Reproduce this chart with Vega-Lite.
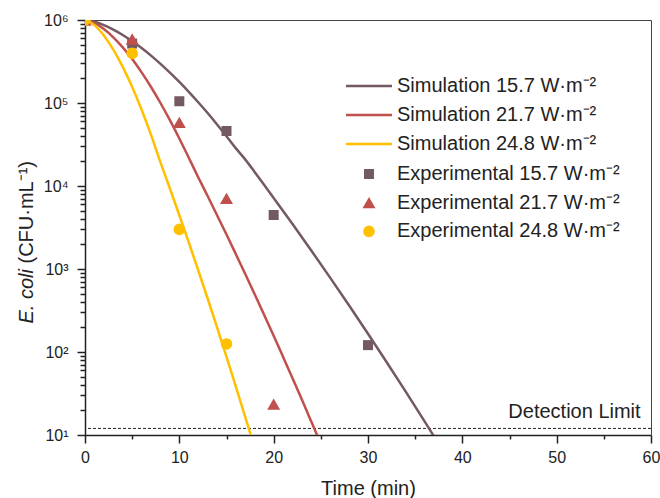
{
  "$schema": "https://vega.github.io/schema/vega-lite/v6.json",
  "width": 566,
  "height": 415,
  "autosize": {"type": "none"},
  "padding": {"left": 85, "top": 20, "right": 9, "bottom": 63},
  "background": "white",
  "config": {
    "font": "Liberation Sans",
    "view": {"stroke": "#444", "strokeWidth": 1},
    "axis": {"grid": false, "domainColor": "#222", "domainWidth": 1.5, "tickColor": "#222", "tickWidth": 1.5, "labelColor": "#222", "titleColor": "#222", "labelFont": "Liberation Sans", "titleFont": "Liberation Sans", "titleFontWeight": "normal"},
    "legend": {"labelFont": "Liberation Sans", "labelColor": "#222", "padding": 0, "labelLimit": 400}
  },
  "datasets": {
    "sim": [
      {"series": "Simulation 15.7 W·m⁻²", "t": 0, "N": 1000000},
      {"series": "Simulation 15.7 W·m⁻²", "t": 1, "N": 952800},
      {"series": "Simulation 15.7 W·m⁻²", "t": 2, "N": 867000},
      {"series": "Simulation 15.7 W·m⁻²", "t": 3, "N": 767400},
      {"series": "Simulation 15.7 W·m⁻²", "t": 4, "N": 660700},
      {"series": "Simulation 15.7 W·m⁻²", "t": 5, "N": 555900},
      {"series": "Simulation 15.7 W·m⁻²", "t": 6, "N": 459200},
      {"series": "Simulation 15.7 W·m⁻²", "t": 7, "N": 372000},
      {"series": "Simulation 15.7 W·m⁻²", "t": 8, "N": 296500},
      {"series": "Simulation 15.7 W·m⁻²", "t": 9, "N": 232300},
      {"series": "Simulation 15.7 W·m⁻²", "t": 10, "N": 179100},
      {"series": "Simulation 15.7 W·m⁻²", "t": 11, "N": 136300},
      {"series": "Simulation 15.7 W·m⁻²", "t": 12, "N": 102200},
      {"series": "Simulation 15.7 W·m⁻²", "t": 13, "N": 75700},
      {"series": "Simulation 15.7 W·m⁻²", "t": 14, "N": 55200},
      {"series": "Simulation 15.7 W·m⁻²", "t": 15, "N": 39800},
      {"series": "Simulation 15.7 W·m⁻²", "t": 16, "N": 28380},
      {"series": "Simulation 15.7 W·m⁻²", "t": 17, "N": 20800},
      {"series": "Simulation 15.7 W·m⁻²", "t": 18, "N": 14660},
      {"series": "Simulation 15.7 W·m⁻²", "t": 19, "N": 10280},
      {"series": "Simulation 15.7 W·m⁻²", "t": 20, "N": 7190},
      {"series": "Simulation 15.7 W·m⁻²", "t": 22, "N": 3480},
      {"series": "Simulation 15.7 W·m⁻²", "t": 24, "N": 1663},
      {"series": "Simulation 15.7 W·m⁻²", "t": 26, "N": 782},
      {"series": "Simulation 15.7 W·m⁻²", "t": 28, "N": 363},
      {"series": "Simulation 15.7 W·m⁻²", "t": 30, "N": 166},
      {"series": "Simulation 15.7 W·m⁻²", "t": 32, "N": 74.8},
      {"series": "Simulation 15.7 W·m⁻²", "t": 34, "N": 33.3},
      {"series": "Simulation 15.7 W·m⁻²", "t": 36, "N": 14.6},
      {"series": "Simulation 15.7 W·m⁻²", "t": 37, "N": 9.6},
      {"series": "Simulation 15.7 W·m⁻²", "t": 38, "N": 6.3},
      {"series": "Simulation 21.7 W·m⁻²", "t": 0, "N": 1000000},
      {"series": "Simulation 21.7 W·m⁻²", "t": 1, "N": 920400},
      {"series": "Simulation 21.7 W·m⁻²", "t": 2, "N": 778000},
      {"series": "Simulation 21.7 W·m⁻²", "t": 3, "N": 619000},
      {"series": "Simulation 21.7 W·m⁻²", "t": 4, "N": 468000},
      {"series": "Simulation 21.7 W·m⁻²", "t": 5, "N": 338000},
      {"series": "Simulation 21.7 W·m⁻²", "t": 6, "N": 234000},
      {"series": "Simulation 21.7 W·m⁻²", "t": 7, "N": 156000},
      {"series": "Simulation 21.7 W·m⁻²", "t": 8, "N": 100000},
      {"series": "Simulation 21.7 W·m⁻²", "t": 9, "N": 62100},
      {"series": "Simulation 21.7 W·m⁻²", "t": 10, "N": 37300},
      {"series": "Simulation 21.7 W·m⁻²", "t": 11, "N": 21900},
      {"series": "Simulation 21.7 W·m⁻²", "t": 12, "N": 12760},
      {"series": "Simulation 21.7 W·m⁻²", "t": 13, "N": 7570},
      {"series": "Simulation 21.7 W·m⁻²", "t": 14, "N": 4450},
      {"series": "Simulation 21.7 W·m⁻²", "t": 15, "N": 2600},
      {"series": "Simulation 21.7 W·m⁻²", "t": 16, "N": 1503},
      {"series": "Simulation 21.7 W·m⁻²", "t": 17, "N": 865},
      {"series": "Simulation 21.7 W·m⁻²", "t": 18, "N": 493},
      {"series": "Simulation 21.7 W·m⁻²", "t": 19, "N": 279},
      {"series": "Simulation 21.7 W·m⁻²", "t": 20, "N": 157},
      {"series": "Simulation 21.7 W·m⁻²", "t": 21, "N": 87.3},
      {"series": "Simulation 21.7 W·m⁻²", "t": 22, "N": 48.3},
      {"series": "Simulation 21.7 W·m⁻²", "t": 23, "N": 26.5},
      {"series": "Simulation 21.7 W·m⁻²", "t": 24, "N": 14.4},
      {"series": "Simulation 21.7 W·m⁻²", "t": 25, "N": 7.8},
      {"series": "Simulation 24.8 W·m⁻²", "t": 0, "N": 1000000},
      {"series": "Simulation 24.8 W·m⁻²", "t": 1, "N": 868000},
      {"series": "Simulation 24.8 W·m⁻²", "t": 2, "N": 651200},
      {"series": "Simulation 24.8 W·m⁻²", "t": 3, "N": 439900},
      {"series": "Simulation 24.8 W·m⁻²", "t": 4, "N": 272200},
      {"series": "Simulation 24.8 W·m⁻²", "t": 5, "N": 155700},
      {"series": "Simulation 24.8 W·m⁻²", "t": 6, "N": 82950},
      {"series": "Simulation 24.8 W·m⁻²", "t": 7, "N": 41330},
      {"series": "Simulation 24.8 W·m⁻²", "t": 8, "N": 19290},
      {"series": "Simulation 24.8 W·m⁻²", "t": 9, "N": 9333},
      {"series": "Simulation 24.8 W·m⁻²", "t": 10, "N": 4446},
      {"series": "Simulation 24.8 W·m⁻²", "t": 11, "N": 2089},
      {"series": "Simulation 24.8 W·m⁻²", "t": 12, "N": 966},
      {"series": "Simulation 24.8 W·m⁻²", "t": 13, "N": 441},
      {"series": "Simulation 24.8 W·m⁻²", "t": 14, "N": 198},
      {"series": "Simulation 24.8 W·m⁻²", "t": 15, "N": 87.3},
      {"series": "Simulation 24.8 W·m⁻²", "t": 16, "N": 38.0},
      {"series": "Simulation 24.8 W·m⁻²", "t": 17, "N": 16.3},
      {"series": "Simulation 24.8 W·m⁻²", "t": 18, "N": 6.89}
    ],
    "exp": [
      {"series": "Experimental 15.7 W·m⁻²", "t": 0, "N": 1000000},
      {"series": "Experimental 15.7 W·m⁻²", "t": 5, "N": 520000},
      {"series": "Experimental 15.7 W·m⁻²", "t": 10, "N": 105000},
      {"series": "Experimental 15.7 W·m⁻²", "t": 15, "N": 46000},
      {"series": "Experimental 15.7 W·m⁻²", "t": 20, "N": 4470},
      {"series": "Experimental 15.7 W·m⁻²", "t": 30, "N": 121},
      {"series": "Experimental 21.7 W·m⁻²", "t": 0, "N": 1000000},
      {"series": "Experimental 21.7 W·m⁻²", "t": 5, "N": 590000},
      {"series": "Experimental 21.7 W·m⁻²", "t": 10, "N": 58500},
      {"series": "Experimental 21.7 W·m⁻²", "t": 15, "N": 7100},
      {"series": "Experimental 21.7 W·m⁻²", "t": 20, "N": 23.6},
      {"series": "Experimental 24.8 W·m⁻²", "t": 0, "N": 1000000},
      {"series": "Experimental 24.8 W·m⁻²", "t": 5, "N": 396000},
      {"series": "Experimental 24.8 W·m⁻²", "t": 10, "N": 3000},
      {"series": "Experimental 24.8 W·m⁻²", "t": 15, "N": 125}
    ]
  },
  "resolve": {"axis": {"y": "independent"}},
  "layer": [
    {
      "data": {"values": [{"lim": 12}]},
      "mark": {"type": "rule", "strokeDash": [3, 2], "strokeWidth": 1, "color": "#222"},
      "encoding": {
        "y": {"field": "lim", "type": "quantitative", "scale": {"type": "log", "domain": [10, 1000000], "nice": false}, "axis": null}
      }
    },
    {
      "data": {"values": [{"t": 58.9, "N": 16.1, "label": "Detection Limit"}]},
      "mark": {"type": "text", "align": "right", "baseline": "alphabetic", "fontSize": 20, "color": "#222", "font": "Liberation Sans"},
      "encoding": {
        "x": {"field": "t", "type": "quantitative", "scale": {"domain": [0, 60], "nice": false}},
        "y": {"field": "N", "type": "quantitative", "scale": {"type": "log", "domain": [10, 1000000], "nice": false}, "axis": null},
        "text": {"field": "label"}
      }
    },
    {
      "data": {"name": "sim"},
      "mark": {"type": "line", "clip": true, "strokeWidth": 2.5, "interpolate": "monotone"},
      "encoding": {
        "x": {
          "field": "t", "type": "quantitative",
          "scale": {"domain": [0, 60], "nice": false},
          "axis": {
            "values": [0, 5, 10, 15, 20, 25, 30, 35, 40, 45, 50, 55, 60],
            "labelExpr": "datum.value % 10 == 0 ? datum.label : ''",
            "tickSize": {"condition": {"test": "datum.value % 10 == 0", "value": 8}, "value": 4},
            "labelFontSize": 16, "labelPadding": 6, "labelFlush": false,
            "title": "Time (min)", "titleFontSize": 20, "titleBaseline": "alphabetic", "titleY": 59
          }
        },
        "y": {
          "field": "N", "type": "quantitative",
          "scale": {"type": "log", "domain": [10, 1000000], "nice": false},
          "axis": {
            "values": [10, 20, 30, 40, 50, 60, 70, 80, 90, 100, 200, 300, 400, 500, 600, 700, 800, 900, 1000, 2000, 3000, 4000, 5000, 6000, 7000, 8000, 9000, 10000, 20000, 30000, 40000, 50000, 60000, 70000, 80000, 90000, 100000, 200000, 300000, 400000, 500000, 600000, 700000, 800000, 900000, 1000000],
            "labelExpr": "datum.value == 1000000 ? '10⁶' : datum.value == 100000 ? '10⁵' : datum.value == 10000 ? '10⁴' : datum.value == 1000 ? '10³' : datum.value == 100 ? '10²' : datum.value == 10 ? '10¹' : ''",
            "tickSize": {"condition": {"test": "indexof([10,100,1000,10000,100000,1000000], datum.value) >= 0", "value": 8}, "value": 5},
            "labelFontSize": 16, "labelPadding": 9, "labelFlush": false,
            "title": "E. coli", "titleFontSize": 20, "titleFontStyle": "italic", "titleAngle": 270, "titleAlign": "left", "titleBaseline": "alphabetic", "titleX": -53, "titleY": 303
          }
        },
        "stroke": {
          "field": "series", "type": "nominal",
          "scale": {"domain": ["Simulation 15.7 W·m⁻²", "Simulation 21.7 W·m⁻²", "Simulation 24.8 W·m⁻²"], "range": ["#735961", "#c0504d", "#ffc000"]},
          "legend": {"orient": "none", "legendX": 274, "legendY": 56, "title": null, "symbolType": "M-4,0H4", "symbolSize": 132, "symbolStrokeWidth": 2.5, "labelFontSize": 20, "labelOffset": 18, "rowPadding": 9}
        }
      }
    },
    {
      "data": {"name": "exp"},
      "mark": {"type": "point", "filled": true, "clip": true, "opacity": 1, "strokeWidth": 0},
      "encoding": {
        "x": {"field": "t", "type": "quantitative", "scale": {"domain": [0, 60], "nice": false}},
        "y": {
          "field": "N", "type": "quantitative",
          "scale": {"type": "log", "domain": [10, 1000000], "nice": false},
          "axis": {"orient": "left", "domain": false, "ticks": false, "labels": false, "grid": false,
            "title": "(CFU·mL⁻¹)", "titleFontSize": 20, "titleFontStyle": "normal", "titleAngle": 270, "titleAlign": "left", "titleBaseline": "alphabetic", "titleX": -53, "titleY": 243}
        },
        "fill": {
          "field": "series", "type": "nominal",
          "scale": {"domain": ["Experimental 15.7 W·m⁻²", "Experimental 21.7 W·m⁻²", "Experimental 24.8 W·m⁻²"], "range": ["#735961", "#c0504d", "#ffc000"]},
          "legend": {"orient": "none", "legendX": 274, "legendY": 144, "title": null, "labelFontSize": 20, "labelOffset": 18, "rowPadding": 8.7, "symbolStrokeWidth": 0}
        },
        "shape": {
          "field": "series", "type": "nominal",
          "scale": {"domain": ["Experimental 15.7 W·m⁻²", "Experimental 21.7 W·m⁻²", "Experimental 24.8 W·m⁻²"], "range": ["square", "triangle-up", "circle"]},
          "legend": {"orient": "none", "legendX": 274, "legendY": 144, "title": null, "labelFontSize": 20, "labelOffset": 18, "rowPadding": 8.7, "symbolStrokeWidth": 0}
        },
        "size": {
          "field": "series", "type": "nominal",
          "scale": {"type": "ordinal", "domain": ["Experimental 15.7 W·m⁻²", "Experimental 21.7 W·m⁻²", "Experimental 24.8 W·m⁻²"], "range": [100, 170, 135]},
          "legend": {"orient": "none", "legendX": 274, "legendY": 144, "title": null, "labelFontSize": 20, "labelOffset": 18, "rowPadding": 8.7, "symbolStrokeWidth": 0}
        }
      }
    }
  ]
}
